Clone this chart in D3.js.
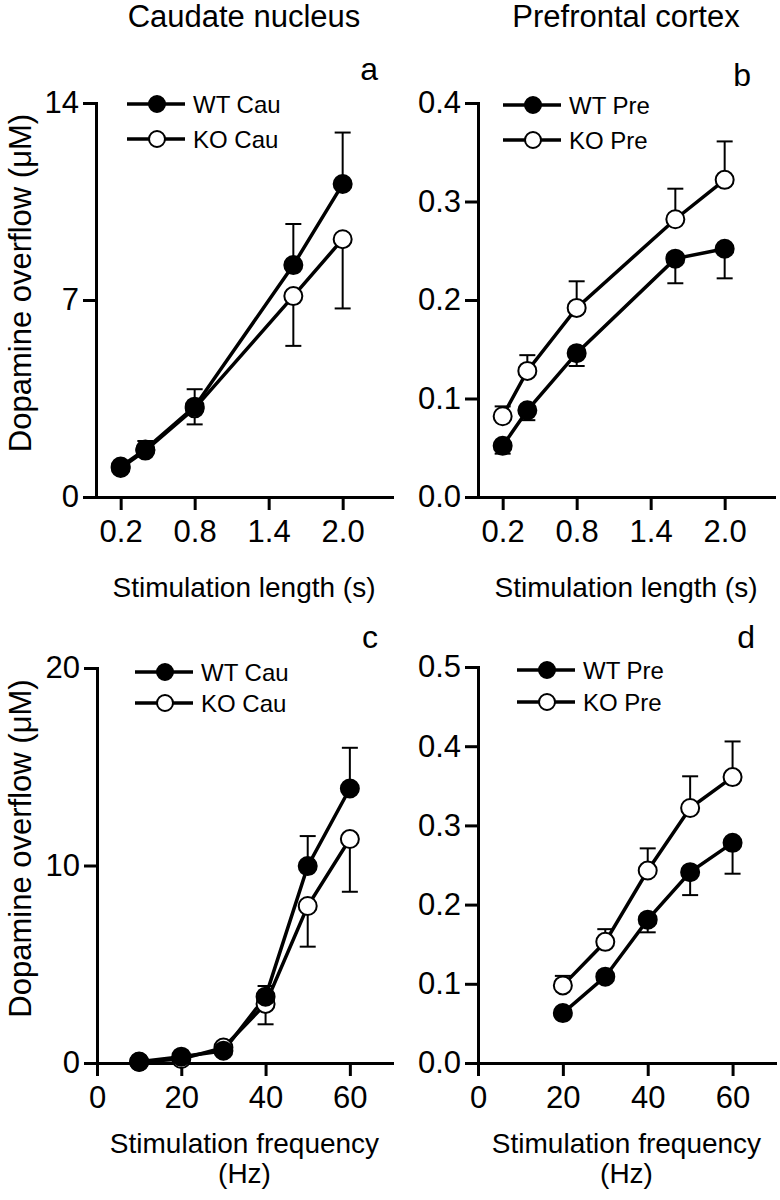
<!DOCTYPE html>
<html>
<head>
<meta charset="utf-8">
<script src="https://cdn.jsdelivr.net/npm/d3@7"></script>
<style>
  body { margin: 0; background: #fff; }
  text { font-family: "Liberation Sans", Arial, sans-serif; fill: #000; }
</style>
</head>
<body>
<script>
// x values
const lengthX = [0.2, 0.4, 0.8, 1.6, 2.0];
const freqXCau = [10, 20, 30, 40, 50, 60];
const freqXPre = [20, 30, 40, 50, 60];

// tick labels
const lengthTicks = [0.2, 0.8, 1.4, 2.0];
const freqTicks = [0, 20, 40, 60];

// a: caudate, stimulation length
const wtCauLen = [1.08, 1.69, 3.21, 8.24, 11.12];
const wtCauLenSem = [0.1, 0.3, 0.62, 1.46, 1.83];
const koCauLen = [1.03, 1.65, 3.15, 7.14, 9.16];
const koCauLenSem = [0.08, 0.12, 0.57, 1.77, 2.46];

// b: prefrontal, stimulation length
const wtPreLen = [0.052, 0.088, 0.146, 0.242, 0.252];
const wtPreLenSem = [0.008, 0.010, 0.013, 0.025, 0.030];
const koPreLen = [0.082, 0.128, 0.192, 0.282, 0.322];
const koPreLenSem = [0.010, 0.016, 0.027, 0.031, 0.039];

// c: caudate, stimulation frequency
const wtCauFreq = [0.07, 0.32, 0.62, 3.36, 9.97, 13.9];
const wtCauFreqSem = [0.05, 0.1, 0.15, 0.54, 1.52, 2.06];
const koCauFreq = [0.05, 0.2, 0.78, 2.99, 7.95, 11.34];
const koCauFreqSem = [0.03, 0.08, 0.15, 1.03, 2.06, 2.67];

// d: prefrontal, stimulation frequency
const wtPreFreq = [0.063, 0.109, 0.181, 0.241, 0.278];
const wtPreFreqSem = [0.004, 0.005, 0.016, 0.029, 0.039];
const koPreFreq = [0.098, 0.153, 0.243, 0.322, 0.361];
const koPreFreqSem = [0.012, 0.016, 0.028, 0.040, 0.045];

const svg = d3.select("body").append("svg")
  .attr("width", 780)
  .attr("height", 1200);

const fmt1 = d3.format(".1f");
const fmtInt = d3.format("d");

const panels = [
  {
    letter: "a", xs: lengthX, wt: wtCauLen, wtSem: wtCauLenSem, ko: koCauLen, koSem: koCauLenSem,
    wtDir: 1, koDir: -1,
    xDomain: [0, 2.4], xRange: [96, 392], yDomain: [0, 14], yRange: [497, 103],
    xTicks: lengthTicks, xFmt: fmt1, yTicks: [0, 7, 14], yFmt: fmtInt,
    legend: ["WT Cau", "KO Cau"], legX: 127, legY: 104, legGap: 35,
    letterX: 378, letterY: 80, yLabel: true,
    xTitle: ["Stimulation length (s)"], xTitleY: 597
  },
  {
    letter: "b", xs: lengthX, wt: wtPreLen, wtSem: wtPreLenSem, ko: koPreLen, koSem: koPreLenSem,
    wtDir: -1, koDir: 1,
    xDomain: [0, 2.4], xRange: [478, 774], yDomain: [0, 0.4], yRange: [497, 103],
    xTicks: lengthTicks, xFmt: fmt1, yTicks: [0, 0.1, 0.2, 0.3, 0.4], yFmt: fmt1,
    legend: ["WT Pre", "KO Pre"], legX: 503, legY: 105, legGap: 35,
    letterX: 751, letterY: 86, yLabel: false,
    xTitle: ["Stimulation length (s)"], xTitleY: 597
  },
  {
    letter: "c", xs: freqXCau, wt: wtCauFreq, wtSem: wtCauFreqSem, ko: koCauFreq, koSem: koCauFreqSem,
    wtDir: 1, koDir: -1,
    xDomain: [0, 70], xRange: [97, 392], yDomain: [0, 20], yRange: [1063, 668],
    xTicks: freqTicks, xFmt: fmtInt, yTicks: [0, 10, 20], yFmt: fmtInt,
    legend: ["WT Cau", "KO Cau"], legX: 135, legY: 672, legGap: 31,
    letterX: 378, letterY: 648, yLabel: true,
    xTitle: ["Stimulation frequency", "(Hz)"], xTitleY: 1153
  },
  {
    letter: "d", xs: freqXPre, wt: wtPreFreq, wtSem: wtPreFreqSem, ko: koPreFreq, koSem: koPreFreqSem,
    wtDir: -1, koDir: 1,
    xDomain: [0, 70], xRange: [478, 775], yDomain: [0, 0.5], yRange: [1063, 667],
    xTicks: freqTicks, xFmt: fmtInt, yTicks: [0, 0.1, 0.2, 0.3, 0.4, 0.5], yFmt: fmt1,
    legend: ["WT Pre", "KO Pre"], legX: 517, legY: 670, legGap: 32,
    letterX: 755, letterY: 648, yLabel: false,
    xTitle: ["Stimulation frequency", "(Hz)"], xTitleY: 1153
  }
];

// column titles
svg.append("text").attr("x", 244).attr("y", 27)
  .attr("text-anchor", "middle").attr("font-size", 31).text("Caudate nucleus");
svg.append("text").attr("x", 626).attr("y", 27)
  .attr("text-anchor", "middle").attr("font-size", 31).text("Prefrontal cortex");

panels.forEach(p => {
  const x = d3.scaleLinear().domain(p.xDomain).range(p.xRange);
  const y = d3.scaleLinear().domain(p.yDomain).range(p.yRange);
  const g = svg.append("g");

  const yAxis = g.append("g")
    .attr("transform", `translate(${p.xRange[0]},0)`)
    .call(d3.axisLeft(y).tickValues(p.yTicks).tickFormat(p.yFmt)
      .tickSize(13).tickSizeOuter(0).tickPadding(4));

  const xAxis = g.append("g")
    .attr("transform", `translate(0,${p.yRange[0]})`)
    .call(d3.axisBottom(x).tickValues(p.xTicks).tickFormat(p.xFmt)
      .tickSize(13).tickSizeOuter(0).tickPadding(10));

  [yAxis, xAxis].forEach(ax => {
    ax.select(".domain").attr("stroke-width", 3).attr("stroke-linecap", "square");
    ax.selectAll(".tick line").attr("stroke-width", 3);
    ax.selectAll(".tick text").attr("font-size", 31)
      .style("font-family", '"Liberation Sans", Arial, sans-serif');
  });

  const line = d3.line().x((d, i) => x(p.xs[i])).y(d => y(d));

  const series = [
    { vals: p.ko, sem: p.koSem, dir: p.koDir, fill: "#fff" },
    { vals: p.wt, sem: p.wtSem, dir: p.wtDir, fill: "#000" }
  ];

  series.forEach(s => {
    g.append("path").datum(s.vals)
      .attr("d", line)
      .attr("fill", "none").attr("stroke", "#000").attr("stroke-width", 3.5);
  });

  series.forEach(s => {
    const eb = g.append("g").attr("stroke", "#000").attr("stroke-width", 2);
    s.vals.forEach((v, i) => {
      const cx = x(p.xs[i]);
      const yEnd = y(v + s.dir * s.sem[i]);
      eb.append("line").attr("x1", cx).attr("x2", cx)
        .attr("y1", y(v)).attr("y2", yEnd);
      eb.append("line").attr("x1", cx - 8).attr("x2", cx + 8)
        .attr("y1", yEnd).attr("y2", yEnd);
    });
  });

  series.forEach(s => {
    g.append("g").selectAll("circle")
      .data(s.vals)
      .join("circle")
      .attr("cx", (d, i) => x(p.xs[i]))
      .attr("cy", d => y(d))
      .attr("r", 9)
      .attr("fill", s.fill)
      .attr("stroke", "#000")
      .attr("stroke-width", 2);
  });

  // legend
  const fills = ["#000", "#fff"];
  p.legend.forEach((name, i) => {
    const ly = p.legY + i * p.legGap;
    g.append("line").attr("x1", p.legX).attr("x2", p.legX + 58)
      .attr("y1", ly).attr("y2", ly)
      .attr("stroke", "#000").attr("stroke-width", 3.5);
    g.append("circle").attr("cx", p.legX + 30).attr("cy", ly).attr("r", 8)
      .attr("fill", fills[i]).attr("stroke", "#000").attr("stroke-width", 2);
    g.append("text").attr("x", p.legX + 66).attr("y", ly + 9)
      .attr("font-size", 24).text(name);
  });

  // panel letter
  g.append("text").attr("x", p.letterX).attr("y", p.letterY)
    .attr("text-anchor", "end").attr("font-size", 32).text(p.letter);

  // axis titles
  const cx = (p.xRange[0] + p.xRange[1]) / 2;
  p.xTitle.forEach((t, i) => {
    g.append("text").attr("x", cx).attr("y", p.xTitleY + i * 30)
      .attr("text-anchor", "middle").attr("font-size", 28).text(t);
  });

  if (p.yLabel) {
    const cy = (p.yRange[0] + p.yRange[1]) / 2 - 17;
    g.append("text")
      .attr("transform", `translate(31,${cy}) rotate(-90)`)
      .attr("text-anchor", "middle").attr("font-size", 31)
      .text("Dopamine overflow (μM)");
  }
});
</script>
</body>
</html>
